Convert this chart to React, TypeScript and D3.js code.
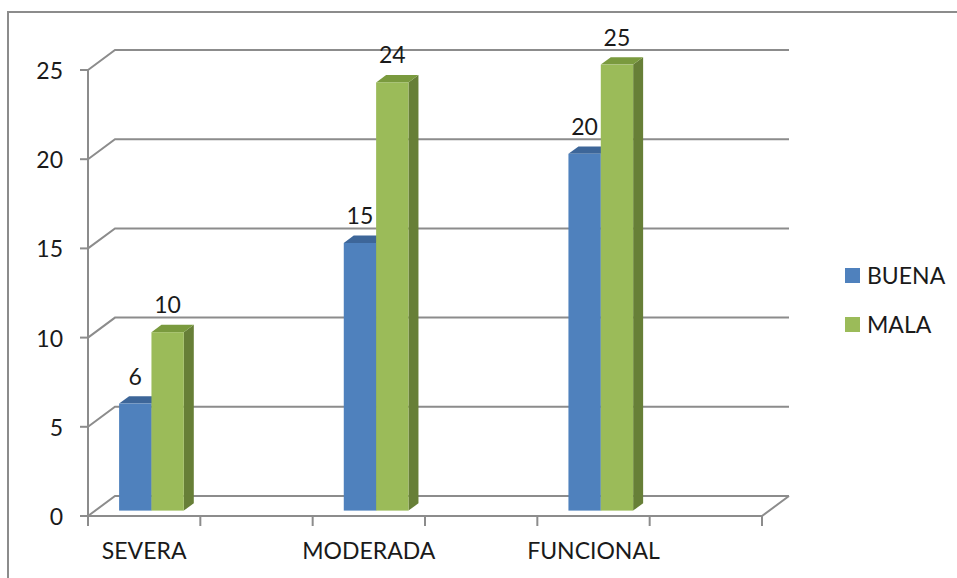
import React, { useEffect, useRef } from "react";
import * as d3 from "d3";

const categories = ["SEVERA", "MODERADA", "FUNCIONAL"];
const seriesNames = ["BUENA", "MALA"];
const buena = [6, 15, 20];
const mala = [10, 24, 25];
const yTicks = [0, 5, 10, 15, 20, 25];

const colors = {
  BUENA: { front: "#4f81bd", top: "#3d6699", side: "#345a88" },
  MALA: { front: "#9bbb59", top: "#7a9a3e", side: "#677f37" },
};

export default function App() {
  const svgRef = useRef<SVGSVGElement>(null);

  useEffect(() => {
    const svg = d3.select(svgRef.current);
    svg.selectAll("*").remove();
    const width = 957;
    const height = 578;
    const font = "Lato, 'Open Sans', sans-serif";
    const grid = "#8c8c8c";

    // outer frame (only top and left edges are visible)
    svg
      .append("rect")
      .attr("x", 8)
      .attr("y", 12)
      .attr("width", width + 20)
      .attr("height", height + 20)
      .attr("fill", "none")
      .attr("stroke", grid)
      .attr("stroke-width", 2);

    const x = d3.scaleBand().domain(categories).range([88, 762]).padding(0);
    const y = d3.scaleLinear().domain([0, 25]).range([516, 70]);
    const bw = x.bandwidth();

    // depth of the 3D box and of the bars
    const DX = 27;
    const DY = -20;
    const barShift = 0.27;
    const barDepth = 0.37;

    // back wall gridlines + side diagonals
    const g = svg.append("g").attr("fill", "none").attr("stroke", grid).attr("stroke-width", 2);
    yTicks.forEach((t) => {
      g.append("path").attr(
        "d",
        `M88,${y(t)}L${88 + DX},${y(t) + DY}L${762 + DX},${y(t) + DY}`
      );
    });
    // floor front edge and right diagonal
    g.append("path").attr("d", `M88,${y(0)}L762,${y(0)}L${762 + DX},${y(0) + DY}`);
    // y axis line
    g.append("path").attr("d", `M88,${y(25)}L88,${y(0) + 10}`);
    // y ticks
    yTicks.forEach((t) => {
      g.append("path").attr("d", `M80,${y(t)}L88,${y(t)}`);
    });
    // x ticks
    d3.range(7).forEach((i) => {
      const xx = 88 + (i * bw) / 2;
      g.append("path").attr("d", `M${xx},${y(0)}L${xx},${y(0) + 10}`);
    });

    // y tick labels
    svg
      .append("g")
      .selectAll("text")
      .data(yTicks)
      .join("text")
      .attr("x", 63)
      .attr("y", (d) => y(d) + 9)
      .attr("text-anchor", "end")
      .style("font-family", font)
      .style("font-size", "23px")
      .attr("fill", "#1a1a1a")
      .text((d) => d);

    // category labels
    svg
      .append("g")
      .selectAll("text")
      .data(categories)
      .join("text")
      .attr("x", (d) => (x(d) as number) + bw / 4)
      .attr("y", 559)
      .attr("text-anchor", "middle")
      .style("font-family", font)
      .style("font-size", "23px")
      .attr("fill", "#1a1a1a")
      .text((d) => d);

    // bars
    const inner = d3.scaleBand().domain(seriesNames).range([0, bw * 0.288]);
    const sx = DX * barShift;
    const sy = DY * barShift;
    const ddx = DX * barDepth;
    const ddy = DY * barDepth;
    const values: Record<string, number[]> = { BUENA: buena, MALA: mala };

    const bars = svg.append("g");
    seriesNames.forEach((s) => {
      const c = colors[s as keyof typeof colors];
      values[s].forEach((v, i) => {
        const cat = categories[i];
        const x0 = (x(cat) as number) + bw / 4 - bw * 0.144 + (inner(s) as number) + sx;
        const x1 = x0 + inner.bandwidth();
        const yb = y(0) + sy;
        const yt = y(v) + sy;
        bars
          .append("path")
          .attr("d", `M${x1},${yb}L${x1 + ddx},${yb + ddy}L${x1 + ddx},${yt + ddy}L${x1},${yt}Z`)
          .attr("fill", c.side);
        bars
          .append("path")
          .attr("d", `M${x0},${yt}L${x0 + ddx},${yt + ddy}L${x1 + ddx},${yt + ddy}L${x1},${yt}Z`)
          .attr("fill", c.top);
        bars
          .append("rect")
          .attr("x", x0)
          .attr("y", yt)
          .attr("width", x1 - x0)
          .attr("height", yb - yt)
          .attr("fill", c.front);
        bars
          .append("text")
          .attr("x", (x0 + x1) / 2)
          .attr("y", yt - 19)
          .attr("text-anchor", "middle")
          .style("font-family", font)
          .style("font-size", "23px")
          .attr("fill", "#1a1a1a")
          .text(v);
      });
    });

    // legend
    const legend = svg.append("g");
    seriesNames.forEach((s, i) => {
      const c = colors[s as keyof typeof colors];
      legend
        .append("rect")
        .attr("x", 845)
        .attr("y", 268 + i * 49)
        .attr("width", 15)
        .attr("height", 15)
        .attr("fill", c.front);
      legend
        .append("text")
        .attr("x", 867)
        .attr("y", 284 + i * 49)
        .style("font-family", font)
        .style("font-size", "23px")
        .attr("fill", "#1a1a1a")
        .text(s);
    });
  }, []);

  return (
    <svg
      ref={svgRef}
      width={957}
      height={578}
      style={{ position: "absolute", left: 0, top: 0, background: "#fff" }}
    />
  );
}
